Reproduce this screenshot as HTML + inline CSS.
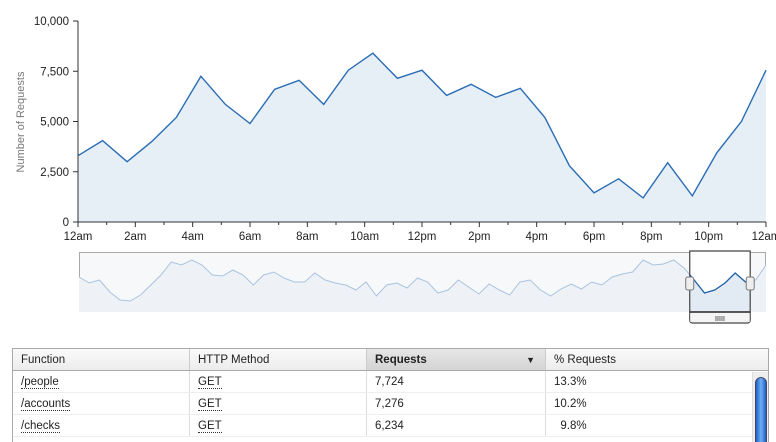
<!DOCTYPE html>
<html><head><meta charset="utf-8">
<style>
body{margin:0;width:776px;height:441px;overflow:hidden;background:#fff;font-family:"Liberation Sans",sans-serif;}
svg{position:absolute;left:0;top:0}
text{font-family:"Liberation Sans",sans-serif}
#tbl div{box-sizing:border-box}
</style></head><body>
<svg id="chart" width="776" height="441"></svg>
<script>
const pointValues=[3300,4050,3000,4000,5200,7250,5850,4900,6600,7050,5850,7550,8400,7150,7550,6300,6850,6200,6650,5200,2800,1450,2150,1200,2950,1300,3450,5000,7550];
const yTicks=[0,2500,5000,7500,10000];
const yTickLabels=["0","2,500","5,000","7,500","10,000"];
const xTickLabels=["12am","2am","4am","6am","8am","10am","12pm","2pm","4pm","6pm","8pm","10pm","12am"];
const navValues=[35,29,32,20,12,11,17,27,37,50,47,52,47,37,36,42,37,27,37,40,34,30,30,39,32,29,27,22,30,16,27,29,24,34,30,19,22,32,25,18,28,22,17,30,32,22,16,23,28,23,30,27,35,38,40,52,47,48,52,44,32,19,22,29,39,30,32,47];
const selStart=0.889,selEnd=0.977;
const tableRows=[["/people","GET","7,724","13.3%"],["/accounts","GET","7,276","10.2%"],["/checks","GET","6,234","9.8%"]];

const NS="http://www.w3.org/2000/svg";
const svg=document.getElementById('chart');
function mk(t,a,p){const e=document.createElementNS(NS,t);for(const k in a)e.setAttribute(k,a[k]);(p||svg).appendChild(e);return e;}
const L=78,R=766,T=21,B=222;
const xs=i=>L+(R-L)*i/(pointValues.length-1);
const ys=v=>B-(B-T)*v/10000;
const defs=mk('defs',{});
let d='M'+L+','+B;pointValues.forEach((v,i)=>d+=' L'+xs(i).toFixed(1)+','+ys(v).toFixed(1));d+=' L'+R+','+B+' Z';
const area=mk('path',{d:d,fill:'#e6eef6'});


let ld='';pointValues.forEach((v,i)=>ld+=(i?' L':'M')+xs(i).toFixed(1)+','+ys(v).toFixed(1));
const line=mk('path',{d:ld,fill:'none',stroke:'#2a6db5','stroke-width':1.4});


const ya=mk('line',{x1:L,y1:T,x2:L,y2:B,stroke:'#333'});


const xa=mk('line',{x1:L,y1:B,x2:R,y2:B,stroke:'#333'});


yTicks.forEach((v,i)=>{const y=ys(v);mk('line',{x1:L-5,y1:y,x2:L,y2:y,stroke:'#333'});
 const t=mk('text',{x:L-9,y:y+4,'text-anchor':'end','font-size':11.5,fill:'#222'});t.textContent=yTickLabels[i];
 
 });
const yt=mk('text',{x:24,y:122,'text-anchor':'middle','font-size':11,fill:'#777',transform:'rotate(-90 24 122)'});yt.textContent='Number of Requests';


const hx=h=>L+(R-L)*h/24;
for(let h=0;h<=24;h++){mk('line',{x1:hx(h),y1:B,x2:hx(h),y2:B+(h%2?3:5),stroke:'#333'});}
xTickLabels.forEach((s,i)=>{const t=mk('text',{x:hx(i*2),y:B+18,'text-anchor':'middle','font-size':11.5,fill:'#222'});t.textContent=s;
 
 });
const NL=79,NR=766,NT=252,NB=312;
const nav=mk('rect',{x:NL+.5,y:NT+.5,width:NR-NL-1,height:NB-NT-1,fill:'#f7f8fa',stroke:'#aaa'});


const nx=i=>NL+(NR-NL)*i/(navValues.length-1);
const ny=v=>NB-(NB-NT)*v/60;
let nd='M'+NL+','+NB;navValues.forEach((v,i)=>nd+=' L'+nx(i).toFixed(1)+','+ny(v).toFixed(1));nd+=' L'+NR+','+NB+'Z';
mk('path',{d:nd,fill:'#eef2f7'});
let nl='';navValues.forEach((v,i)=>nl+=(i?' L':'M')+nx(i).toFixed(1)+','+ny(v).toFixed(1));
const navLine=mk('path',{d:nl,fill:'none',stroke:'#a9c3df','stroke-width':1});


const sx1=NL+(NR-NL)*selStart,sx2=NL+(NR-NL)*selEnd;
mk('clipPath',{id:'sel'},defs);mk('rect',{x:sx1,y:NT,width:sx2-sx1,height:NB-NT},defs.lastChild);
const g=mk('g',{'clip-path':'url(#sel)'});
mk('rect',{x:sx1,y:NT,width:sx2-sx1,height:NB-NT,fill:'#fff'},g);
mk('path',{d:nd,fill:'#e2ebf4'},g);
mk('path',{d:nl,fill:'none',stroke:'#1f5fa8','stroke-width':1.3},g);
const win=mk('path',{d:`M${sx1},${NT-1} L${sx2},${NT-1} L${sx2},${NB+8} Q${sx2},${NB+11} ${sx2-3},${NB+11} L${sx1+3},${NB+11} Q${sx1},${NB+11} ${sx1},${NB+8} Z`,fill:'none',stroke:'#444','stroke-width':1.2});


mk('rect',{x:sx1+.5,y:NB+1,width:sx2-sx1-1,height:9,fill:'#f4f4f4'});
mk('line',{x1:sx1,y1:NB,x2:sx2,y2:NB,stroke:'#222','stroke-width':1.5});
for(let k=0;k<5;k++)mk('line',{x1:(sx1+sx2)/2-4+k*2,y1:NB+4,x2:(sx1+sx2)/2-4+k*2,y2:NB+9,stroke:'#666'});
[sx1,sx2].forEach(x=>{const h=mk('rect',{x:x-4,y:277,width:8,height:13,rx:2,fill:'#eee',stroke:'#777'});
 
 });
</script>
<div id="tbl" style="position:absolute;left:12px;top:348px;width:755px;height:93px;border:1px solid #aaa;border-bottom:none;overflow:hidden;font-size:11.5px;color:#222">
 <div style="display:flex;height:22px;line-height:22px;background:linear-gradient(#fafafa,#ececec);border-bottom:1px solid #aaa">
  <div style="width:177px;padding-left:8px;border-right:1px solid #ccc">Function</div>
  <div style="width:177px;padding-left:8px;border-right:1px solid #ccc">HTTP Method</div>
  <div style="width:179px;padding-left:8px;border-right:1px solid #ccc;background:linear-gradient(#e6e6e6,#d4d4d4);font-weight:bold;position:relative">Requests<span style="position:absolute;right:10px;top:0;font-size:9px">▼</span></div>
  <div style="flex:1;padding-left:8px">% Requests</div>
 </div>
 <div id="rows"></div>
 <div style="position:absolute;right:0;top:23px;width:16px;height:80px;background:#eee;border-left:1px solid #ddd">
  <div style="position:absolute;left:2px;top:5px;width:12px;height:80px;border-radius:6px;background:linear-gradient(90deg,#1c5fc4,#6fb0f6,#1c5fc4);border:1px solid #446"></div>
 </div>
</div>
<script>
const rc=document.getElementById('rows');
tableRows.forEach(r=>{const row=document.createElement('div');
 
 
 row.style.cssText='display:flex;height:22px;line-height:22px;border-bottom:1px solid #eee';
 const w=[177,177,179,0];
 r.forEach((c,i)=>{const cell=document.createElement('div');
  
  
  cell.style.cssText=(w[i]?'width:'+w[i]+'px;border-right:1px solid #ddd;':'flex:1;')+'padding-left:8px';
  if(i<2){cell.innerHTML='<span style="border-bottom:1px dotted #333">'+c+'</span>';}else cell.textContent=(i==3&&c.length<5?'\u00a0\u00a0':'')+c;
  row.appendChild(cell);});
 rc.appendChild(row);});
</script>
</body></html>
